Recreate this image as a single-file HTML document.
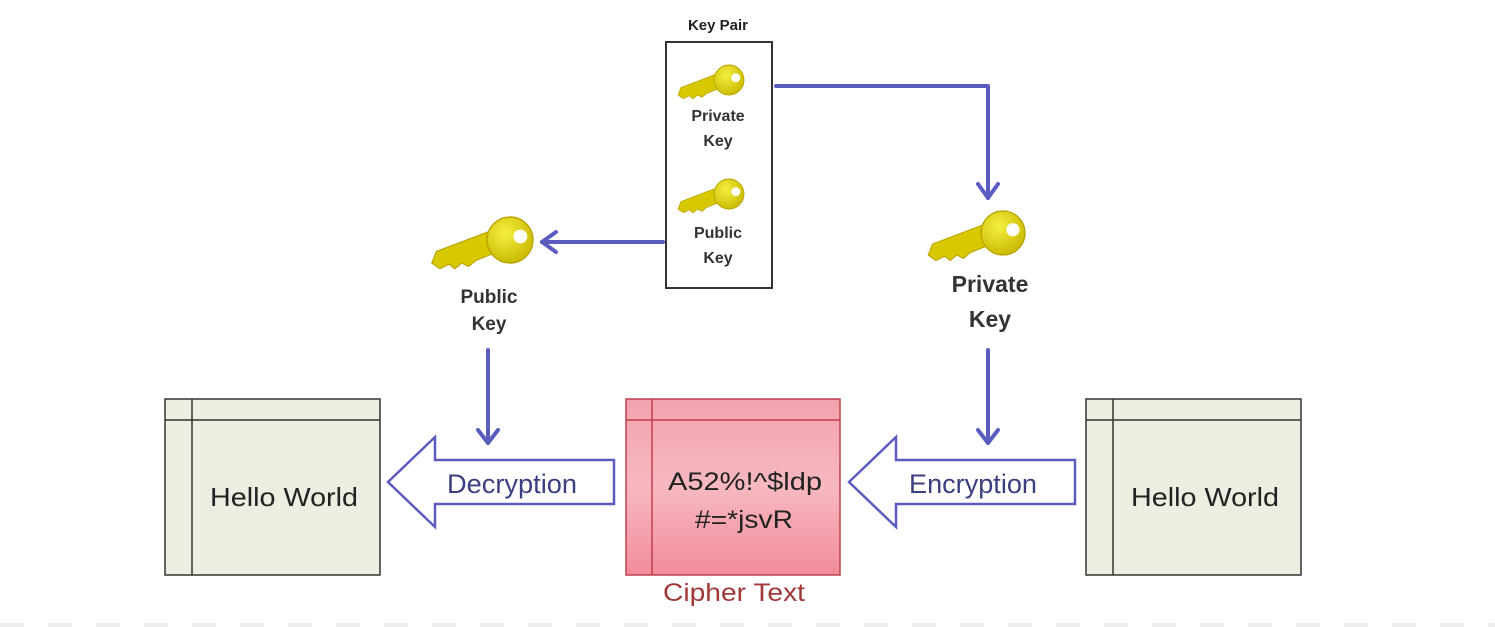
<!DOCTYPE html>
<html><head><meta charset="utf-8"><style>
body{margin:0;background:#fff;}
svg{display:block}
text{font-family:"Liberation Sans",Arial,sans-serif}
</style></head><body>
<svg width="1495" height="627" viewBox="0 0 1495 627" xmlns="http://www.w3.org/2000/svg">
<defs>
<linearGradient id="pink" x1="0" y1="0" x2="0" y2="1"><stop offset="0" stop-color="#f2a2ad"/><stop offset="0.5" stop-color="#f7b8c0"/><stop offset="1" stop-color="#f28c9a"/></linearGradient>
<radialGradient id="gold" cx="0.4" cy="0.35" r="0.7"><stop offset="0" stop-color="#f4f040"/><stop offset="1" stop-color="#c9b800"/></radialGradient>
<g id="key">
  <path d="M-14,-9 L-64,10 L-68,20 L-61,25 L-53,21 L-48,25 L-42,20 L-36,23 L-30,18 L-8,9 Z" fill="#d8c800" stroke="#b8a400" stroke-width="1"/>
  <circle cx="0" cy="0" r="20" fill="url(#gold)" stroke="#b8a400" stroke-width="1.2"/>
  <circle cx="9" cy="-3" r="6" fill="#fff"/>
</g>
</defs>

<text x="718" y="30" font-size="15" font-weight="bold" text-anchor="middle" fill="#222">Key Pair</text>
<rect x="666" y="42" width="106" height="246" fill="#fff" stroke="#333" stroke-width="2"/>
<use href="#key" transform="translate(729,80) scale(0.75)"/>
<text x="718" y="121" font-size="16" font-weight="bold" text-anchor="middle" fill="#333">Private</text>
<text x="718" y="146" font-size="16" font-weight="bold" text-anchor="middle" fill="#333">Key</text>
<use href="#key" transform="translate(729,194) scale(0.75)"/>
<text x="718" y="238" font-size="16" font-weight="bold" text-anchor="middle" fill="#333">Public</text>
<text x="718" y="263" font-size="16" font-weight="bold" text-anchor="middle" fill="#333">Key</text>

<g stroke="#5a5cc0" stroke-width="4" fill="none" stroke-linecap="round" stroke-linejoin="round">
<polyline points="776,86 988,86 988,198"/>
<polyline points="978,184 988,198 998,184"/>
<line x1="663" y1="242" x2="542" y2="242"/>
<polyline points="556,232 542,242 556,252"/>
<line x1="488" y1="350" x2="488" y2="443"/>
<polyline points="478,430 488,443 498,430"/>
<line x1="988" y1="350" x2="988" y2="443"/>
<polyline points="978,430 988,443 998,430"/>
</g>

<use href="#key" transform="translate(510,240) scale(1.15)"/>
<text x="489" y="303" font-size="19" font-weight="bold" text-anchor="middle" fill="#333">Public</text>
<text x="489" y="330" font-size="19" font-weight="bold" text-anchor="middle" fill="#333">Key</text>
<use href="#key" transform="translate(1003,233) scale(1.1)"/>
<text x="990" y="292" font-size="23" font-weight="bold" text-anchor="middle" fill="#333">Private</text>
<text x="990" y="327" font-size="23" font-weight="bold" text-anchor="middle" fill="#333">Key</text>

<g stroke="#333" stroke-width="1.5">
<rect x="165" y="399" width="215" height="176" fill="#eceee2"/>
<line x1="192" y1="399" x2="192" y2="575"/><line x1="165" y1="420" x2="380" y2="420"/>
<rect x="1086" y="399" width="215" height="176" fill="#eceee2"/>
<line x1="1113" y1="399" x2="1113" y2="575"/><line x1="1086" y1="420" x2="1301" y2="420"/>
</g>
<g stroke="#c0404e" stroke-width="1.5">
<rect x="626" y="399" width="214" height="176" fill="url(#pink)"/>
<line x1="652" y1="399" x2="652" y2="575"/><line x1="626" y1="420" x2="840" y2="420"/>
</g>
<text x="284" y="506" font-size="26" text-anchor="middle" fill="#222" textLength="148" lengthAdjust="spacingAndGlyphs">Hello World</text>
<text x="1205" y="506" font-size="26" text-anchor="middle" fill="#222" textLength="148" lengthAdjust="spacingAndGlyphs">Hello World</text>
<text x="745" y="490" font-size="25" text-anchor="middle" fill="#222" textLength="154" lengthAdjust="spacingAndGlyphs">A52%!^$ldp</text>
<text x="744" y="528" font-size="25" text-anchor="middle" fill="#222" textLength="98" lengthAdjust="spacingAndGlyphs">#=*jsvR</text>
<text x="734" y="601" font-size="25" text-anchor="middle" fill="#a03838" textLength="142" lengthAdjust="spacingAndGlyphs">Cipher Text</text>

<g fill="#fff" stroke="#5a5cc0" stroke-width="2.5" stroke-linejoin="miter">
<polygon points="388,482 435,437 435,460 614,460 614,504 435,504 435,527"/>
<polygon points="849,482 896,437 896,460 1075,460 1075,504 896,504 896,527"/>
</g>
<text x="512" y="493" font-size="27" text-anchor="middle" fill="#3a3f80" textLength="130" lengthAdjust="spacingAndGlyphs">Decryption</text>
<text x="973" y="493" font-size="27" text-anchor="middle" fill="#3a3f80" textLength="128" lengthAdjust="spacingAndGlyphs">Encryption</text>

<line x1="0" y1="625" x2="1495" y2="625" stroke="#eee" stroke-width="4" stroke-dasharray="24,24"/>
</svg>
</body></html>
